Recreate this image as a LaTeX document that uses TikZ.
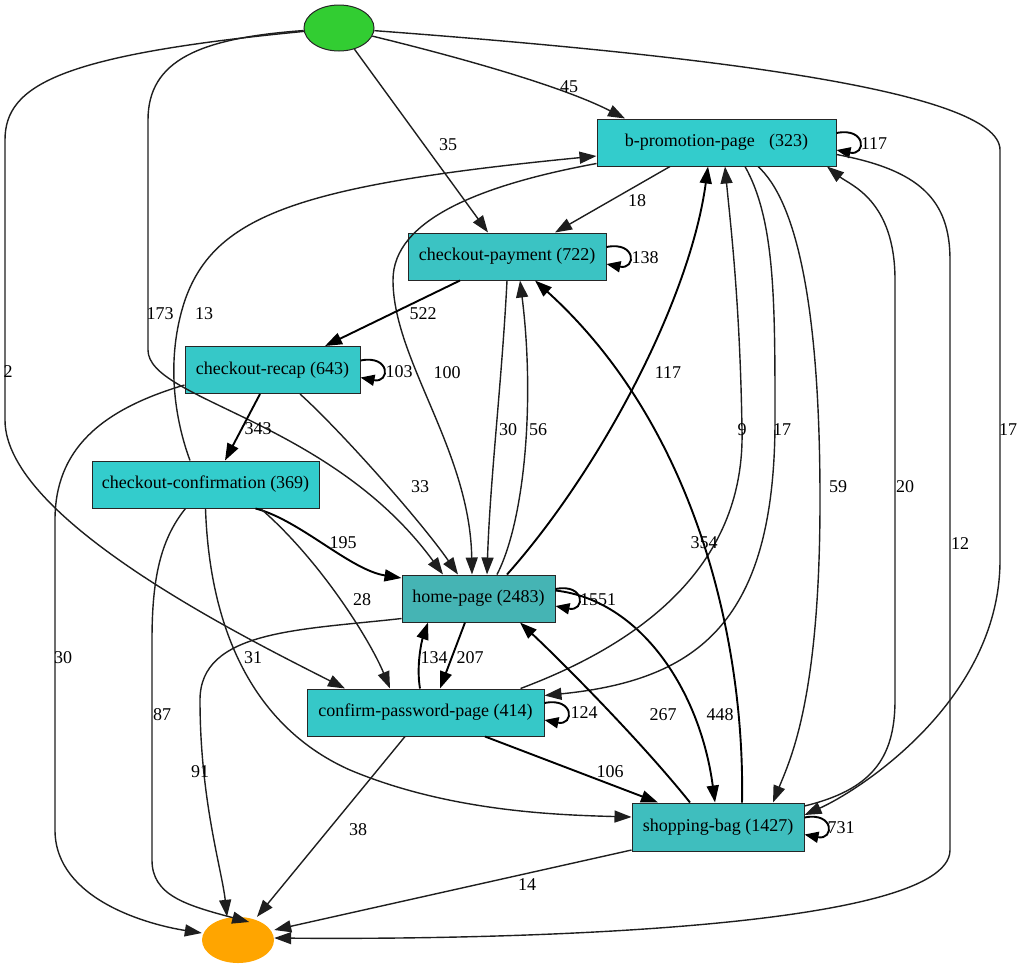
\documentclass[tikz,border=0pt]{standalone}
\usepackage{fontspec}
\setmainfont{Liberation Serif}
\usetikzlibrary{arrows.meta,shapes.geometric}
\definecolor{cA}{HTML}{33CCCC}
\definecolor{cB}{HTML}{3BC3C3}
\definecolor{cC}{HTML}{36C8C8}
\definecolor{cD}{HTML}{45B4B4}
\definecolor{cE}{HTML}{3FBEBE}
\definecolor{startc}{HTML}{32CD32}
\definecolor{endc}{HTML}{FFA500}
\definecolor{edgec}{HTML}{1E1E1E}
\begin{document}
\begin{tikzpicture}[x=1pt,y=-1pt,
  font=\fontsize{18}{21}\selectfont,
  box/.style={draw=black!85,line width=1pt,rectangle,minimum height=47pt,inner sep=0pt},
  lbl/.style={inner sep=1pt},
  e/.style={draw=edgec,line width=1.4pt,-{Triangle[length=17pt,width=12pt]}},
  eb/.style={draw=black,line width=1.9pt,-{Triangle[length=17pt,width=12pt]}},
  loope/.style={draw=black,line width=1.9pt,-{Triangle[length=14pt,width=11pt]}}]
\useasboundingbox (0,0) rectangle (1024,970);

% nodes
\node[ellipse,draw=black!85,line width=1pt,fill=startc,minimum width=70pt,minimum height=46pt,inner sep=0pt] (start) at (339,28) {};
\node[ellipse,fill=endc,minimum width=72pt,minimum height=46pt,inner sep=0pt] (end) at (238,940) {};
\node[box,fill=cA,minimum width=239pt] (bp) at (716.5,142.5) {b-promotion-page\hspace{0.8em}(323)};
\node[box,fill=cB,minimum width=198pt] (cp) at (507,256.5) {checkout-payment (722)};
\node[box,fill=cC,minimum width=175pt] (cr) at (272.5,370) {checkout-recap (643)};
\node[box,fill=cA,minimum width=227pt] (cc) at (205.5,484.5) {checkout-confirmation (369)};
\node[box,fill=cD,minimum width=153pt] (hp) at (478.5,598.5) {home-page (2483)};
\node[box,fill=cC,minimum width=237pt] (cpp) at (425.5,712.5) {confirm-password-page (414)};
\node[box,fill=cE,minimum width=172pt,minimum height=48pt] (sb) at (718,827) {shopping-bag (1427)};

% edges from start
\draw[e] (start) .. controls (450,55) and (560,85) .. ([xshift=-91.5pt]bp.north);
\draw[e] (start) -- ([xshift=-19pt]cp.north);
\draw[e] (start) .. controls (200,38) and (148,60) .. (148,120) -- (148,350) .. controls (148,400) and (330,420) .. ([xshift=-35.5pt]hp.north);
\draw[e] (start) .. controls (60,55) and (5,85) .. (5,140) -- (5,420) .. controls (5,520) and (250,640) .. ([xshift=-80.5pt]cpp.north);
\draw[e] (start) .. controls (700,55) and (1000,90) .. (1000,150) -- (1000,560) .. controls (1000,700) and (860,790) .. ([yshift=12pt]sb.east);

% b-promotion-page
\draw[loope] ([yshift=9.5pt]bp.east) .. controls +(30,-6) and +(30,6) .. ([yshift=-7.5pt]bp.east);
\draw[e] ([xshift=-46.5pt]bp.south) -- ([xshift=48pt]cp.north);
\draw[e] ([yshift=3pt]bp.south west) .. controls (480,185) and (393,220) .. (393,280) .. controls (393,360) and (470,450) .. ([xshift=-6.5pt]hp.north);
\draw[e] ([xshift=41.5pt]bp.south) .. controls (795,200) and (820,300) .. (820,500) .. controls (820,700) and (790,760) .. ([xshift=55pt]sb.north);
\draw[e] ([xshift=28.5pt]bp.south) .. controls (775,220) and (775,300) .. (775,420) .. controls (775,620) and (700,680) .. ([yshift=17pt]cpp.east);
\draw[e] ([yshift=-12pt]bp.east) .. controls (920,170) and (950,200) .. (950,260) -- (950,850) .. controls (950,930) and (500,940) .. ([yshift=2pt]end.east);

% checkout-payment
\draw[loope] ([yshift=9.5pt]cp.east) .. controls +(30,-6) and +(30,6) .. ([yshift=-7.5pt]cp.east);
\draw[eb] ([xshift=-47pt]cp.south) -- ([xshift=52.5pt]cr.north);
\draw[e] (cp.south) .. controls (502,380) and (490,480) .. ([xshift=8.5pt]hp.north);

% checkout-recap
\draw[loope] ([yshift=9.5pt]cr.east) .. controls +(30,-6) and +(30,6) .. ([yshift=-7.5pt]cr.east);
\draw[eb] ([xshift=-12.5pt]cr.south) -- ([xshift=19.5pt]cc.north);
\draw[e] ([xshift=27.5pt]cr.south) .. controls (340,430) and (420,520) .. ([xshift=-20.5pt]hp.north);
\draw[e] ([yshift=-15pt]cr.west) .. controls (100,410) and (55,450) .. (55,520) -- (55,830) .. controls (55,900) and (150,925) .. ([yshift=7pt]end.west);

% checkout-confirmation
\draw[e] ([xshift=-15.5pt]cc.north) .. controls (175,420) and (165,360) .. (185,300) .. controls (215,215) and (300,185) .. ([yshift=-13.5pt]bp.west);
\draw[eb] ([xshift=50pt]cc.south) .. controls (300,520) and (350,570) .. ([yshift=20.5pt]hp.west);
\draw[e] ([xshift=55pt]cc.south) .. controls (320,560) and (370,640) .. ([xshift=-35.5pt]cpp.north);
\draw[e] (cc.south) .. controls (210,640) and (260,730) .. (350,770) .. controls (450,812) and (560,815) .. ([yshift=10pt]sb.west);
\draw[e] ([xshift=-20pt]cc.south) .. controls (160,540) and (152,580) .. (152,640) -- (152,860) .. controls (152,895) and (185,905) .. ([xshift=-25pt,yshift=18pt]end.east);

% home-page
\draw[loope] ([yshift=9.5pt]hp.east) .. controls +(30,-6) and +(30,6) .. ([yshift=-7.5pt]hp.east);
\draw[eb] ([xshift=28.5pt]hp.north) .. controls (600,470) and (690,300) .. ([xshift=-8.5pt]bp.south);
\draw[e] ([xshift=18.5pt]hp.north) .. controls (525,520) and (535,400) .. ([xshift=13pt]cp.south);
\draw[eb] ([xshift=-13.5pt]hp.south) -- ([xshift=14.5pt]cpp.north);
\draw[eb] ([yshift=8pt]hp.east) .. controls (640,600) and (700,690) .. ([xshift=-3pt]sb.north);
\draw[e] ([yshift=-20pt]hp.west) .. controls (300,630) and (200,630) .. (200,700) .. controls (200,800) and (222,870) .. ([xshift=-11pt]end.north);

% confirm-password-page
\draw[loope] ([yshift=9.5pt]cpp.east) .. controls +(30,-6) and +(30,6) .. ([yshift=-7.5pt]cpp.east);
\draw[eb] ([xshift=-5.5pt]cpp.north) .. controls (416,665) and (422,640) .. ([xshift=-50.5pt]hp.south);
\draw[e] ([xshift=95pt]cpp.north) .. controls (650,640) and (745,560) .. (742,430) .. controls (740,300) and (730,220) .. ([xshift=8.5pt]bp.south);
\draw[eb] ([xshift=59.5pt]cpp.south) -- ([xshift=-60pt]sb.north);
\draw[e] ([xshift=-20.5pt]cpp.south) -- ([xshift=19pt]end.north);

% shopping-bag
\draw[loope] ([yshift=9.5pt]sb.east) .. controls +(30,-6) and +(30,6) .. ([yshift=-7.5pt]sb.east);
\draw[eb] ([xshift=24pt]sb.north) .. controls (745,650) and (700,430) .. ([xshift=28pt]cp.south);
\draw[eb] ([xshift=-28pt]sb.north) .. controls (640,740) and (560,660) .. ([xshift=41.5pt]hp.south);
\draw[e] ([yshift=21pt]sb.east) .. controls (870,790) and (895,760) .. (895,700) -- (895,280) .. controls (895,200) and (850,185) .. ([xshift=110.5pt]bp.south);
\draw[e] ([yshift=-23pt]sb.west) -- ([yshift=10pt]end.east);

% labels
\node[lbl] (l45) at (569,87) {45};
\node[lbl] (l35) at (448,145) {35};
\node[lbl] (l173) at (160,314) {173};
\node[lbl] (l2) at (8,372) {2};
\node[lbl] (l17a) at (1008,430) {17};
\node[lbl] (l117a) at (874,144) {117};
\node[lbl] (l18) at (637,201) {18};
\node[lbl] (l100) at (447,373) {100};
\node[lbl] (l59) at (838,487) {59};
\node[lbl] (l17b) at (782,430) {17};
\node[lbl] (l12) at (960,544) {12};
\node[lbl] (l138) at (645,258) {138};
\node[lbl] (l522) at (423,314) {522};
\node[lbl] (l30a) at (508,430) {30};
\node[lbl] (l103) at (399,372) {103};
\node[lbl] (l343) at (258,429) {343};
\node[lbl] (l33) at (420,487) {33};
\node[lbl] (l30b) at (63,658) {30};
\node[lbl] (l13) at (204,314) {13};
\node[lbl] (l195) at (343,543) {195};
\node[lbl] (l28) at (362,600) {28};
\node[lbl] (l31) at (253,658) {31};
\node[lbl] (l87) at (162,715) {87};
\node[lbl] (l1551) at (598,600) {1551};
\node[lbl] (l117b) at (668,373) {117};
\node[lbl] (l56) at (538,430) {56};
\node[lbl] (l207) at (470,658) {207};
\node[lbl] (l448) at (720,715) {448};
\node[lbl] (l91) at (200,772) {91};
\node[lbl] (l124) at (584,713) {124};
\node[lbl] (l134) at (434,658) {134};
\node[lbl] (l9) at (742,430) {9};
\node[lbl] (l106) at (610,772) {106};
\node[lbl] (l38) at (358,830) {38};
\node[lbl] (l731) at (841,828) {731};
\node[lbl] (l354) at (704,543) {354};
\node[lbl] (l267) at (663,715) {267};
\node[lbl] (l20) at (905,487) {20};
\node[lbl] (l14) at (527,885) {14};
\end{tikzpicture}
\end{document}
